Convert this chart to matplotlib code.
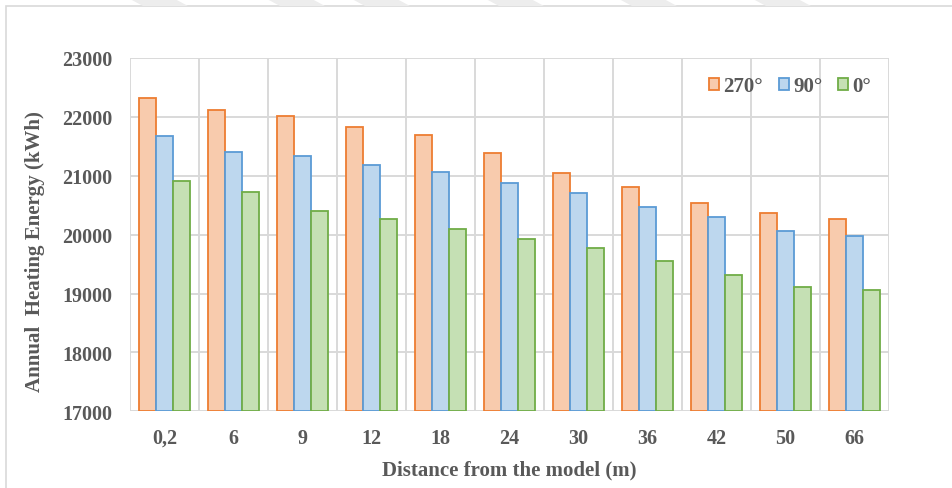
import matplotlib
matplotlib.use("Agg")
import matplotlib.pyplot as plt
import numpy as np
from matplotlib.patches import Rectangle, Polygon

# Data
distances = ["0,2", "6", "9", "12", "18", "24", "30", "36", "42", "50", "66"]
energy_270 = [22322, 22119, 22010, 21831, 21688, 21395, 21051, 20808, 20537, 20363, 20271]
energy_90 = [21683, 21412, 21344, 21175, 21058, 20881, 20712, 20464, 20295, 20068, 19971]
energy_0 = [20915, 20729, 20401, 20271, 20092, 19932, 19780, 19554, 19317, 19113, 19056]
series_labels = ["270°", "90°", "0°"]
y_ticks = [17000, 18000, 19000, 20000, 21000, 22000, 23000]

plt.rcParams["font.family"] = ["Liberation Serif", "DejaVu Serif"]
plt.rcParams["font.weight"] = "bold"
plt.rcParams["axes.labelweight"] = "bold"

text_color = "#595959"
grid_color = "#D9D9D9"

fig = plt.figure(figsize=(9.52, 4.89), dpi=100)
ax = fig.add_axes([130 / 952, 1 - 412.3 / 489, (889 - 130) / 952, (412.3 - 59) / 489])

# chart frame
fig.patches.append(Rectangle((6 / 952, -0.5), 2.0, 1.5 - 7 / 489, transform=fig.transFigure,
                             fill=False, edgecolor="#D9D9D9", linewidth=1.2, zorder=0))
# faint header pattern
for x0 in [130, 267, 352, 486, 619, 753]:
    pts = [(x0 / 952, 1.0), ((x0 + 45) / 952, 1.0), ((x0 + 58) / 952, 1 - 7 / 489), ((x0 + 13) / 952, 1 - 7 / 489)]
    fig.patches.append(Polygon(pts, closed=True, transform=fig.transFigure,
                               facecolor="#EDEDED", edgecolor="none", zorder=0))

x = np.arange(len(distances))
w = 0.25
styles = [("#F8CBAD", "#ED7D31"), ("#BDD7EE", "#5B9BD5"), ("#C5E0B4", "#70AD47")]
for i, (vals, lab, (fc, ec)) in enumerate(zip([energy_270, energy_90, energy_0], series_labels, styles)):
    ax.bar(x + (i - 1) * w, np.array(vals) - 17000, width=w, bottom=17000,
           facecolor=fc, edgecolor=ec, linewidth=1.3, label=lab, zorder=3)

ax.set_xlim(-0.5, len(distances) - 0.5)
ax.set_ylim(17000, 23000)
ax.set_yticks(y_ticks)
ax.set_yticklabels([str(v) for v in y_ticks])
ax.set_xticks(x)
ax.set_xticklabels(distances)

# gridlines: horizontal at values, vertical at category boundaries
for v in y_ticks:
    ax.axhline(v, color=grid_color, linewidth=1.4, zorder=1)
for b in np.arange(-0.5, len(distances), 1.0):
    ax.axvline(b, color=grid_color, linewidth=1.4, zorder=1)

for s in ax.spines.values():
    s.set_visible(False)
ax.tick_params(axis="both", length=0, labelsize=14.5, colors=text_color)
ax.tick_params(axis="y", pad=13)
ax.tick_params(axis="x", pad=12)

ax.set_xlabel("Distance from the model (m)", fontsize=15, fontweight="bold",
              color=text_color, labelpad=8)
ax.set_ylabel("Annual  Heating Energy (kWh)", fontsize=15, fontweight="bold",
              color=text_color, labelpad=14)
ax.yaxis.set_label_coords(-(130 - 45) / (889 - 130), 0.455)

leg = ax.legend(loc="upper right", bbox_to_anchor=(0.996, 0.99), ncol=3, frameon=False,
                fontsize=15, handlelength=0.5, handleheight=0.5, handletextpad=0.2,
                columnspacing=0.75, borderaxespad=0.3)
for t in leg.get_texts():
    t.set_color(text_color)

fig.savefig("out.png", dpi=100)
